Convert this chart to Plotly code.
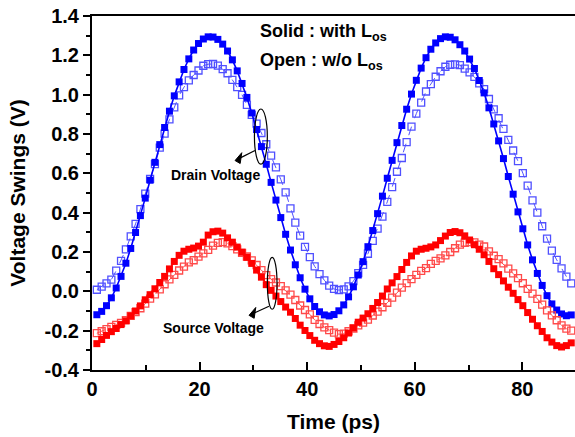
import plotly.graph_objects as go

# sample times (ps)
time_ps = [round(0.9 * k, 1) for k in range(1, 100)]

drain_with_los = [
    -0.119, -0.102, -0.073, -0.033, 0.017, 0.076, 0.143, 0.218, 0.299, 0.385,
    0.474, 0.565, 0.656, 0.746, 0.833, 0.916, 0.994, 1.065, 1.128, 1.182,
    1.227, 1.260, 1.283, 1.294, 1.293, 1.281, 1.257, 1.222, 1.177, 1.121,
    1.057, 0.986, 0.907, 0.823, 0.736, 0.646, 0.554, 0.464, 0.375, 0.290,
    0.210, 0.135, 0.069, 0.011, -0.038, -0.077, -0.104, -0.120, -0.125, -0.118,
    -0.099, -0.069, -0.028, 0.023, 0.083, 0.151, 0.227, 0.309, 0.395, 0.484,
    0.575, 0.666, 0.756, 0.843, 0.926, 1.003, 1.073, 1.135, 1.188, 1.231,
    1.263, 1.285, 1.294, 1.292, 1.279, 1.254, 1.222, 1.181, 1.133, 1.072,
    1.009, 0.933, 0.851, 0.765, 0.675, 0.584, 0.494, 0.404, 0.318, 0.236,
    0.160, 0.091, 0.030, -0.022, -0.064, -0.095, -0.115, -0.124, -0.120,
]

drain_without_los = [
    0.008, 0.024, 0.040, 0.060, 0.105, 0.155, 0.213, 0.279, 0.343, 0.418,
    0.497, 0.572, 0.647, 0.731, 0.802, 0.874, 0.935, 0.996, 1.038, 1.073,
    1.100, 1.123, 1.147, 1.155, 1.156, 1.148, 1.130, 1.109, 1.075, 1.038,
    0.999, 0.948, 0.897, 0.853, 0.805, 0.748, 0.690, 0.630, 0.569, 0.503,
    0.422, 0.349, 0.283, 0.226, 0.174, 0.127, 0.088, 0.056, 0.029, 0.012,
    0.006, 0.010, 0.025, 0.052, 0.093, 0.135, 0.191, 0.257, 0.319, 0.380,
    0.455, 0.530, 0.608, 0.678, 0.759, 0.837, 0.904, 0.960, 1.016, 1.054,
    1.091, 1.119, 1.142, 1.152, 1.154, 1.150, 1.132, 1.113, 1.090, 1.057,
    1.028, 0.978, 0.925, 0.880, 0.826, 0.770, 0.716, 0.662, 0.601, 0.537,
    0.463, 0.400, 0.331, 0.268, 0.207, 0.160, 0.117, 0.075, 0.040,
]

source_with_los = [
    -0.266, -0.245, -0.224, -0.205, -0.189, -0.169, -0.150, -0.125, -0.100, -0.074,
    -0.043, -0.017, 0.013, 0.045, 0.076, 0.114, 0.152, 0.183, 0.204, 0.214,
    0.220, 0.230, 0.250, 0.286, 0.303, 0.306, 0.296, 0.272, 0.250, 0.225,
    0.199, 0.173, 0.142, 0.108, 0.072, 0.034, 0.005, -0.024, -0.052, -0.080,
    -0.106, -0.138, -0.172, -0.199, -0.225, -0.249, -0.266, -0.277, -0.280, -0.270,
    -0.255, -0.236, -0.212, -0.186, -0.157, -0.136, -0.114, -0.087, -0.057, -0.024,
    0.012, 0.043, 0.075, 0.111, 0.147, 0.180, 0.204, 0.214, 0.219, 0.226,
    0.236, 0.258, 0.281, 0.299, 0.304, 0.298, 0.282, 0.261, 0.237, 0.214,
    0.186, 0.152, 0.115, 0.085, 0.053, 0.021, -0.010, -0.042, -0.073, -0.108,
    -0.142, -0.175, -0.204, -0.236, -0.258, -0.276, -0.283, -0.276, -0.262,
]

source_without_los = [
    -0.213, -0.203, -0.192, -0.181, -0.171, -0.160, -0.146, -0.125, -0.106, -0.086,
    -0.063, -0.037, -0.015, 0.010, 0.036, 0.061, 0.084, 0.106, 0.126, 0.147,
    0.158, 0.176, 0.193, 0.211, 0.232, 0.246, 0.250, 0.244, 0.230, 0.213,
    0.196, 0.177, 0.157, 0.134, 0.108, 0.082, 0.062, 0.045, 0.026, 0.005,
    -0.017, -0.044, -0.072, -0.095, -0.117, -0.145, -0.166, -0.183, -0.197, -0.210,
    -0.218, -0.215, -0.203, -0.189, -0.173, -0.159, -0.144, -0.123, -0.103, -0.081,
    -0.058, -0.032, -0.007, 0.019, 0.042, 0.062, 0.084, 0.104, 0.118, 0.140,
    0.155, 0.168, 0.183, 0.200, 0.219, 0.238, 0.247, 0.250, 0.249, 0.238,
    0.228, 0.203, 0.181, 0.164, 0.142, 0.115, 0.091, 0.067, 0.041, 0.013,
    -0.012, -0.038, -0.068, -0.097, -0.122, -0.147, -0.173, -0.190, -0.200,
]

y_tick_vals = [-0.4, -0.2, 0.0, 0.2, 0.4, 0.6, 0.8, 1.0, 1.2, 1.4]
y_tick_text = ["-0.4", "-0.2", "0.0", "0.2", "0.4", "0.6", "0.8", "1.0", "1.2", "1.4"]
x_tick_vals = [0, 20, 40, 60, 80]
x_tick_text = ["0", "20", "40", "60", "80"]

FONT = "Liberation Sans, Arial, sans-serif"
BLUE = "#0000FF"
BLUE_OPEN = "#5050FF"
RED = "#FF0000"
RED_OPEN = "#FF4A4A"

fig = go.Figure()

fig.add_trace(go.Scatter(
    x=time_ps, y=drain_without_los, mode="lines+markers", name="Drain w/o Los",
    line=dict(color=BLUE_OPEN, width=1, dash="dash"),
    marker=dict(symbol="square-open", size=7, color=BLUE_OPEN, line=dict(width=1.3, color=BLUE_OPEN)),
))
fig.add_trace(go.Scatter(
    x=time_ps, y=drain_with_los, mode="lines+markers", name="Drain with Los",
    line=dict(color=BLUE, width=1.6),
    marker=dict(symbol="square", size=7, color=BLUE),
))
fig.add_trace(go.Scatter(
    x=time_ps, y=source_without_los, mode="lines+markers", name="Source w/o Los",
    line=dict(color=RED_OPEN, width=1, dash="dash"),
    marker=dict(symbol="square-open", size=7, color=RED_OPEN, line=dict(width=1.3, color=RED_OPEN)),
))
fig.add_trace(go.Scatter(
    x=time_ps, y=source_with_los, mode="lines+markers", name="Source with Los",
    line=dict(color=RED, width=1.6),
    marker=dict(symbol="square", size=7, color=RED),
))

# ellipses
fig.add_shape(type="circle", xref="x", yref="y", x0=30.2, x1=32.6, y0=0.647, y1=0.927,
              line=dict(color="black", width=1.2))
fig.add_shape(type="circle", xref="x", yref="y", x0=32.6, x1=34.4, y0=-0.091, y1=0.173,
              line=dict(color="black", width=1.2))

# arrows (shaft + head drawn as shapes)
fig.add_shape(type="line", xref="x", yref="y", x0=30.3, y0=0.716, x1=27.4, y1=0.676,
              line=dict(color="black", width=1.2))
fig.add_shape(type="path", xref="x", yref="y",
              path="M 26.6 0.665 L 27.85 0.705 L 27.55 0.650 Z",
              fillcolor="black", line=dict(color="black", width=1))
fig.add_shape(type="line", xref="x", yref="y", x0=32.9, y0=-0.076, x1=30.0, y1=-0.112,
              line=dict(color="black", width=1.2))
fig.add_shape(type="path", xref="x", yref="y",
              path="M 29.2 -0.122 L 30.45 -0.082 L 30.15 -0.137 Z",
              fillcolor="black", line=dict(color="black", width=1))

fig.add_annotation(x=23.0, y=0.594, xref="x", yref="y", text="<b>Drain Voltage</b>", showarrow=False,
                   font=dict(family=FONT, size=14, color="black"))
fig.add_annotation(x=22.5, y=-0.188, xref="x", yref="y", text="<b>Source Voltage</b>", showarrow=False,
                   font=dict(family=FONT, size=14, color="black"))

fig.add_annotation(x=30.9, y=1.315, xref="x", yref="y", xanchor="left",
                   text="<b>Solid : with L<sub>os</sub></b>", showarrow=False,
                   font=dict(family=FONT, size=18, color="black"))
fig.add_annotation(x=30.9, y=1.168, xref="x", yref="y", xanchor="left",
                   text="<b>Open : w/o L<sub>os</sub></b>", showarrow=False,
                   font=dict(family=FONT, size=18, color="black"))

fig.update_layout(
    width=575, height=437,
    margin=dict(l=92, r=0, t=16, b=67, autoexpand=False),
    paper_bgcolor="white", plot_bgcolor="white",
    showlegend=False,
    font=dict(family=FONT, color="black"),
    xaxis=dict(
        range=[0, 89.8], tickvals=x_tick_vals, ticktext=x_tick_text, ticks="inside", ticklen=8,
        tickwidth=1.5, tickcolor="black", showline=True, linecolor="black", linewidth=2, mirror=True,
        showgrid=False, zeroline=False, automargin=False, ticklabeloverflow="allow",
        tickfont=dict(family=FONT, size=20, color="black", weight="bold"),
        minor=dict(dtick=10, tick0=0, ticks="inside", ticklen=5, tickwidth=1.5, tickcolor="black"),
        title=dict(text="<b>Time (ps)</b>", font=dict(family=FONT, size=21, color="black"), standoff=15),
    ),
    yaxis=dict(
        range=[-0.4, 1.4], tickvals=y_tick_vals, ticktext=y_tick_text, ticks="outside", ticklen=7,
        tickwidth=1.5, tickcolor="black", showline=True, linecolor="black", linewidth=2,
        showgrid=False, zeroline=False, automargin=False, ticklabeloverflow="allow",
        tickfont=dict(family=FONT, size=20, color="black", weight="bold"),
        minor=dict(dtick=0.1, tick0=0, ticks="outside", ticklen=4, tickwidth=1.5, tickcolor="black"),
        title=dict(text="<b>Voltage Swings (V)</b>", font=dict(family=FONT, size=21, color="black"), standoff=13),
    ),
)

# remove the page's default body margin so the figure fills the window exactly
fig.write_html("out.html", config={"displayModeBar": False},
               post_script="document.body.style.margin='0';")
